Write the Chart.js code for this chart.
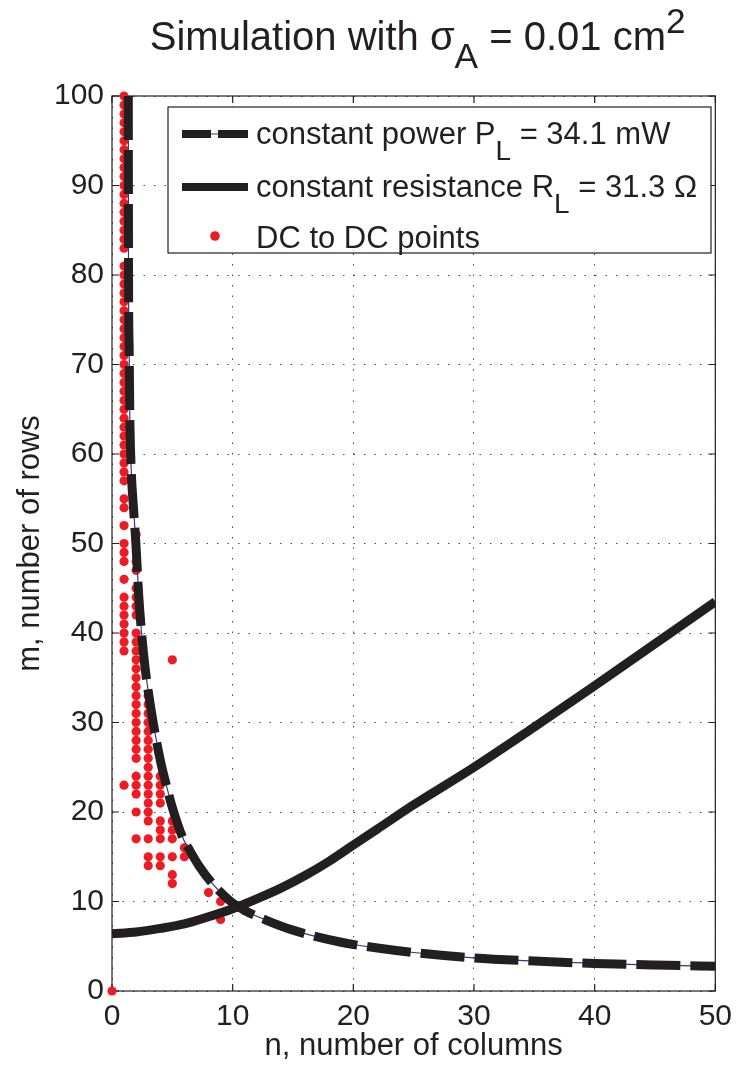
<!DOCTYPE html>
<html><head><meta charset="utf-8">
<script src="https://cdn.jsdelivr.net/npm/chart.js@4.4.0/dist/chart.umd.min.js"></script>
<style>html,body{margin:0;padding:0;background:#fff;}canvas{display:block;}</style>
</head><body>
<canvas id="c" width="740" height="1070"></canvas>
<script>
// ---- text ----
const titleParts = [["Simulation with σ","n"],["A","sub"],[" = 0.01 cm","n"],["2","sup"]];
const xAxisTitle = "n, number of columns";
const yAxisTitle = "m, number of rows";
const legendPower = [["constant power P","n"],["L","sub"],[" = 34.1 mW","n"]];
const legendRes = [["constant resistance R","n"],["L","sub"],[" = 31.3 Ω","n"]];
const legendDots = [["DC to DC points","n"]];

// ---- ticks ----
const xTicks = [0,10,20,30,40,50];
const yTicks = [0,10,20,30,40,50,60,70,80,90,100];

// ---- constant power curve ----
const powerN = [1.35,1.36,1.37,1.42,1.48,1.60,1.78,1.98,2.20,2.45,2.75,3.00,3.50,4.00,4.50,5.00,5.90,6.40,7.20,8.20,9.75,11.0,12.8,15.0,18.8,22.0,25.0,30.0,35.0,40.0,45.0,50.0];
const powerM = [100,90,80,72,64,58,54,50,44.5,40,36,33.5,29.3,25.8,23,20.5,17,15.8,14,12.2,10.1,9.0,7.9,6.8,5.5,4.8,4.3,3.7,3.35,3.08,2.9,2.77];

// ---- constant resistance curve ----
const resN = [0,2,4,6,8,10,12,14,16,18,20,22,25,30,35,40,45,50];
const resM = [6.4,6.6,7.0,7.5,8.3,9.2,10.3,11.5,12.9,14.5,16.3,18.1,20.8,25.0,29.5,34.1,38.8,43.5];

// ---- DC to DC points: columns n and the rows m present in each ----
const dcCols = [0,1,2,3,4,5,6,8,9,11];
const dcRows = [
  [0],
  [23,38,39,40,41,42,43,44,46,48,49,50,52,54,55,57,58,59,60,61,62,63,64,65,66,67,68,69,70,71,72,73,74,75,76,77,78,79,80,81,83,84,85,86,87,88,89,90,91,92,93,94,95,96,97,98,99,100],
  [17,20,22,23,24,26,27,28,29,30,31,32,33,34,35,36,37,38,39,40,42,43,44,45,47,48,51],
  [14,15,17,19,20,21,22,23,24,25,26,27,28,29,30,31,32,33],
  [14,15,17,18,19,21,22,23,24],
  [12,13,15,17,18,19,37],
  [15,16],
  [11],
  [8,10],
  [9]
];

const FONT = '"Liberation Sans", Arial, Helvetica, sans-serif';
const INK = '#231f20';
const RED = '#ed1c24';
const BLUE = '#2b3990';

const dcPoints = [];
dcCols.forEach((n,i)=>dcRows[i].forEach(m=>dcPoints.push({x:n,y:m})));
const powerPts = powerN.map((n,i)=>({x:n,y:powerM[i]}));
const resPts = resN.map((n,i)=>({x:n,y:resM[i]}));

function richDraw(ctx, parts, x, y, size, opt, measureOnly){
  let cx = x;
  for (const [t,kind] of parts){
    const fs = kind==='n' ? size : size*opt.scale;
    ctx.font = fs+'px '+FONT;
    const dy = kind==='sub' ? size*opt.sub : kind==='sup' ? -size*opt.sup : 0;
    if(!measureOnly) ctx.fillText(t, cx, y+dy);
    cx += ctx.measureText(t).width;
  }
  return cx - x;
}

const framePlug = {
  id:'frame',
  beforeDatasetsDraw(chart){
    const {ctx, chartArea:a, scales:{x,y}} = chart;
    ctx.save();
    ctx.strokeStyle = INK; ctx.lineWidth = 1.2;
    ctx.strokeRect(a.left, a.top, a.right-a.left, a.bottom-a.top);
    ctx.beginPath();
    xTicks.forEach(v=>{const p=x.getPixelForValue(v);
      ctx.moveTo(p,a.bottom);ctx.lineTo(p,a.bottom-7);ctx.moveTo(p,a.top);ctx.lineTo(p,a.top+7);});
    yTicks.forEach(v=>{const p=y.getPixelForValue(v);
      ctx.moveTo(a.left,p);ctx.lineTo(a.left+7,p);ctx.moveTo(a.right,p);ctx.lineTo(a.right-7,p);});
    ctx.stroke();
    ctx.restore();
  }
};

const legendPlug = {
  id:'leg',
  afterDatasetsDraw(chart){
    const ctx = chart.ctx;
    const bx=168, by=107, bw=543, bh=146;
    ctx.save();
    ctx.fillStyle='#fff'; ctx.fillRect(bx,by,bw,bh);
    ctx.strokeStyle=INK; ctx.lineWidth=1.2; ctx.strokeRect(bx,by,bw,bh);
    const l1=134, l2=187, l3=236;
    ctx.lineCap='butt';
    const seg=(x1,y1,x2,y2)=>{ctx.beginPath();ctx.moveTo(x1,y1);ctx.lineTo(x2,y2);ctx.stroke();};
    ctx.strokeStyle=BLUE; ctx.lineWidth=1.2; seg(182,l1,248,l1);
    ctx.strokeStyle=INK; ctx.lineWidth=8; seg(182,l1,211,l1); seg(218,l1,248,l1);
    seg(182,l2,248,l2);
    ctx.fillStyle=RED; ctx.beginPath(); ctx.arc(215,l3,4.8,0,Math.PI*2); ctx.fill();
    ctx.fillStyle=INK; ctx.textBaseline='alphabetic'; ctx.textAlign='left';
    const o={scale:0.9,sub:0.5,sup:0.4};
    richDraw(ctx, legendPower, 256, 144, 31, o);
    richDraw(ctx, legendRes, 256, 197, 31, o);
    richDraw(ctx, legendDots, 256, 248, 31, o);
    ctx.restore();
  }
};

const titlePlug = {
  id:'ttl',
  afterDraw(chart){
    const {ctx, chartArea:a} = chart;
    ctx.save();
    ctx.fillStyle=INK; ctx.textBaseline='alphabetic'; ctx.textAlign='left';
    const o={scale:0.88,sub:0.45,sup:0.42};
    const w = richDraw(ctx, titleParts, 0, 0, 40, o, true);
    const x0 = (a.left+a.right)/2 - w/2 + 4;
    richDraw(ctx, titleParts, x0, 50, 40, o);
    ctx.restore();
  }
};

Chart.defaults.font.family = FONT;
Chart.defaults.color = INK;

new Chart(document.getElementById('c'), {
  type:'scatter',
  data:{datasets:[
    {label:'DC to DC points', data:dcPoints, showLine:false, pointRadius:4.6, pointHoverRadius:4.6,
     pointBackgroundColor:RED, pointBorderWidth:0, order:3, clip:false},
    {label:'power-thin', data:powerPts, showLine:true, borderColor:BLUE, borderWidth:1.2,
     pointRadius:0, cubicInterpolationMode:'monotone', order:2},
    {label:'constant power', data:powerPts, showLine:true, borderColor:INK, borderWidth:9,
     borderDash:[44,10], borderCapStyle:'butt', borderJoinStyle:'round',
     pointRadius:0, cubicInterpolationMode:'monotone', order:1},
    {label:'constant resistance', data:resPts, showLine:true, borderColor:INK, borderWidth:9,
     borderCapStyle:'butt', borderJoinStyle:'round',
     pointRadius:0, cubicInterpolationMode:'monotone', order:0}
  ]},
  options:{
    responsive:false, animation:false, devicePixelRatio:1,
    layout:{padding:{top:96,right:22,left:0,bottom:0}},
    plugins:{legend:{display:false}, tooltip:{enabled:false}, title:{display:false}},
    events:[],
    scales:{
      x:{type:'linear', min:0, max:50,
         afterBuildTicks:s=>{s.ticks=xTicks.map(v=>({value:v}));},
         afterFit:s=>{s.height=79;},
         grid:{color:'rgba(30,30,30,0.8)', lineWidth:1, drawTicks:false},
         border:{display:false, dash:[1.5,9]},
         ticks:{font:{size:30}, color:INK, padding:8, maxRotation:0},
         title:{display:true, text:xAxisTitle, font:{size:31}, color:INK, padding:{top:0,bottom:5}}},
      y:{type:'linear', min:0, max:100,
         afterBuildTicks:s=>{s.ticks=yTicks.map(v=>({value:v}));},
         afterFit:s=>{s.width=112;},
         grid:{color:'rgba(30,30,30,0.8)', lineWidth:1, drawTicks:false},
         border:{display:false, dash:[1.5,9]},
         ticks:{font:{size:30}, color:INK, padding:8},
         title:{display:true, text:yAxisTitle, font:{size:31}, color:INK, padding:{top:12,bottom:0}}}
    }
  },
  plugins:[framePlug, legendPlug, titlePlug]
});
</script>
</body></html>
